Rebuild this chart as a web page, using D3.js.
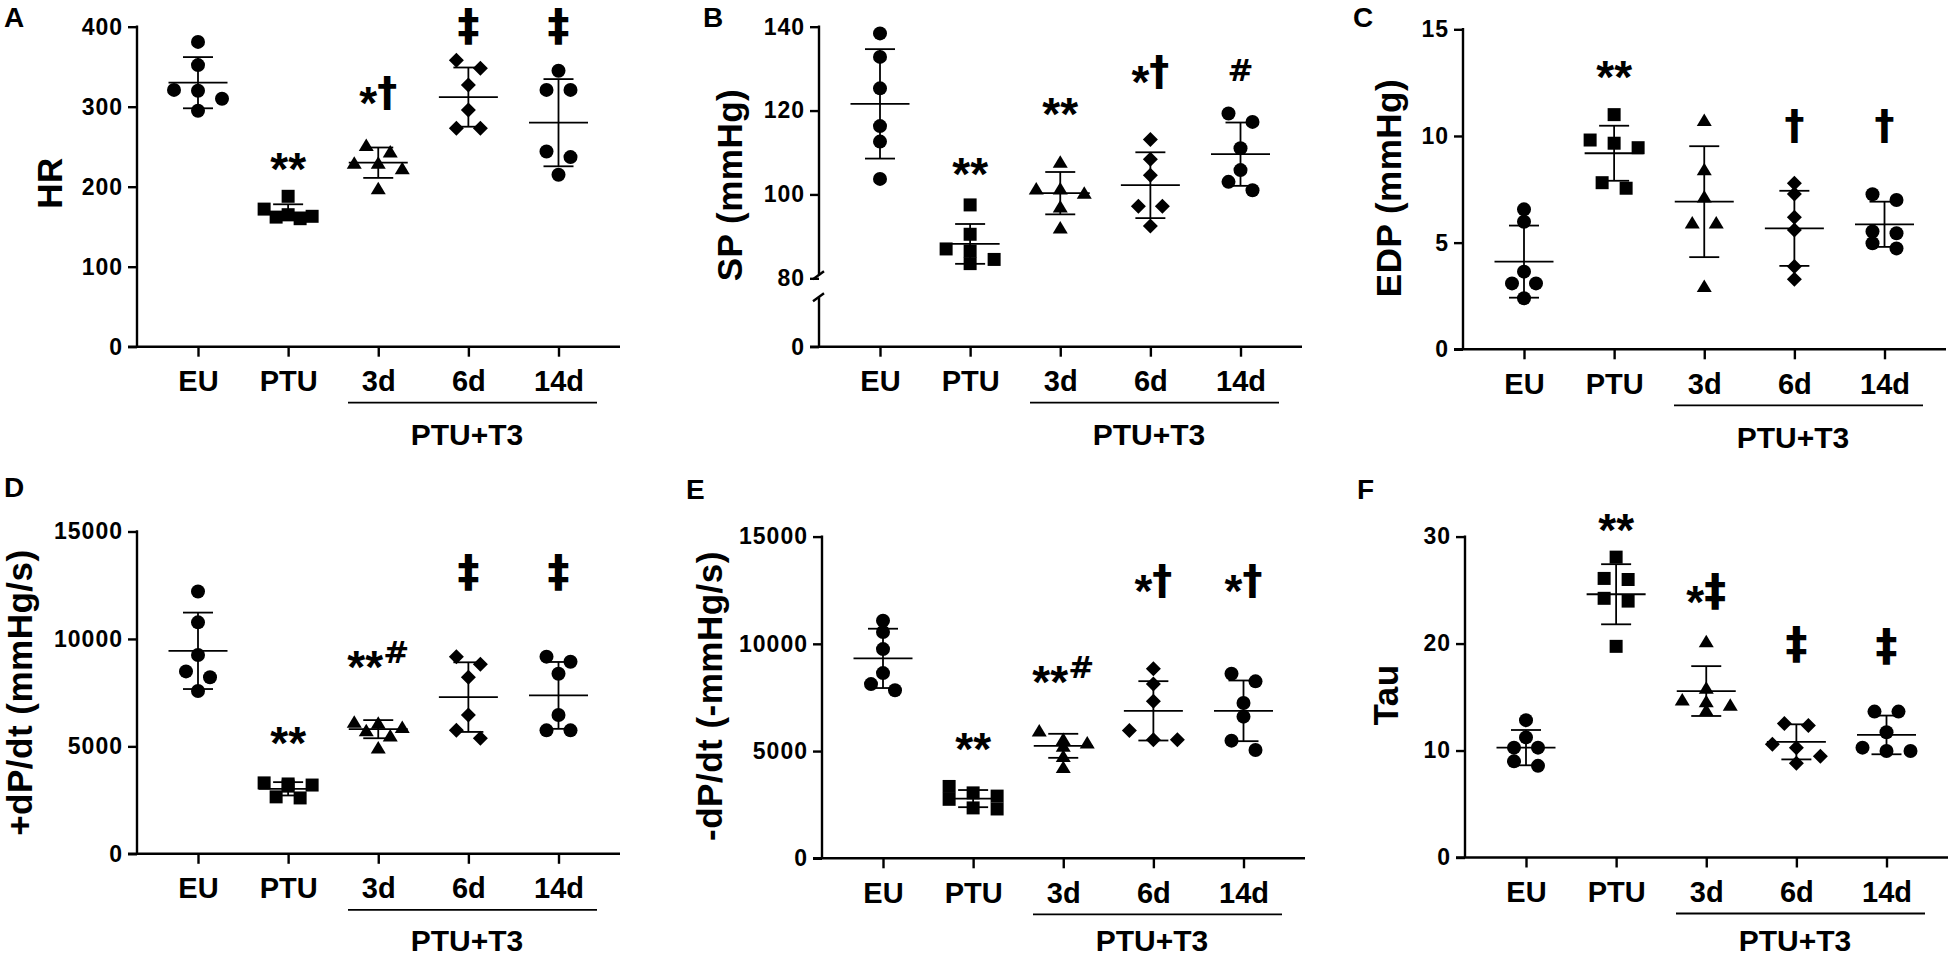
<!DOCTYPE html>
<html><head><meta charset="utf-8">
<script src="https://cdn.jsdelivr.net/npm/d3@7"></script>
<style>
html,body{margin:0;padding:0;background:#fff;}
svg text{font-family:"Liberation Sans",Arial,sans-serif;font-weight:bold;fill:#000;}
</style></head><body>
<svg id="chart" width="1950" height="958"></svg>
<script>
// ---------- DATA ----------
const categories = ["EU", "PTU", "3d", "6d", "14d"];
const groupLabel = "PTU+T3";

const hrValues = [[381,352,321,320,310,295],[188,172,165,163,162,160],[252,244,230,230,223,198],[358,348,327,296,273,273],[345,321,321,244,237,215]];
const hrMeans = [330,168,230,312,280];
const hrSD = [32,10,19,37,54.5];
const hrTicks = [0,100,200,300,400];
const hrMarks = ["","**","*†","‡","‡"];
const hrMarkY = [null,235.5,317.5,412.5,412.5];

const spValues = [[138.4,132.8,125.3,116.3,112.6,103.7],[97.5,90.5,87,86.5,84.5,83.5],[107.8,101.4,101.4,100.4,97.1,92.1],[113.1,108.4,104.6,97.2,97.2,92.5],[119.3,117.3,111,105.8,103,101]];
const spMeans = [121.6,88.2,100.3,102.2,109.6];
const spSD = [13.05,4.75,5.05,7.85,7.55];
const spTicks = [0,80,100,120,140];
const spMarks = ["","**","**","*†","#"];
const spMarkY = [null,107.4,121.7,129.3,129.7];

const edpValues = [[6.56,5.98,3.64,3.09,3.09,2.39],[11.0,9.81,9.66,9.45,7.55,7.81],[10.75,8.44,7.16,5.94,5.94,2.97],[7.78,7.28,6.19,5.59,3.88,3.28],[7.27,7.0,5.52,5.44,4.73,4.97]];
const edpMeans = [4.11,9.19,6.92,5.67,5.86];
const edpSD = [1.69,1.29,2.6,1.76,1.06];
const edpTicks = [0,5,10,15];
const edpMarks = ["","**","","†","†"];
const edpMarkY = [null,13.25,null,10.47,10.5];

const pdpValues = [[12207,10771,9255,8489,8218,7580],[3300,3250,3200,3150,2650,2600],[6150,6100,5900,5750,5500,4950],[9175,8824,8218,6462,5378,5745],[9175,8936,8377,6462,5745,5745]];
const pdpMeans = [9447,3025,5800,7292,7372];
const pdpSD = [1779,310,422,1620,1556];
const pdpTicks = [0,5000,10000,15000];
const pdpMarks = ["","**","**#","‡","‡"];
const pdpMarkY = [null,5633,9175,13085,13085];

const ndpValues = [[11081,10553,9754,8635,8123,7835],[3350,3050,2900,2750,2350,2300],[5964,5405,5565,5245,4765,4253],[8842,8123,7323,5964,5533,5533],[8603,8251,7243,6604,5485,5053]];
const ndpMeans = [9322,2783,5245,6876,6876];
const ndpSD = [1383,400,560,1383,1415];
const ndpTicks = [0,5000,10000,15000];
const ndpMarks = ["","**","**#","*†","*†"];
const ndpMarkY = [null,5565,8683,12920,12920];

const tauValues = [[12.84,11.23,10.27,10.27,8.57,8.99],[28.08,26.09,25.99,24.23,23.97,19.74],[20.22,15.88,14.76,14.6,13.8,14.28],[12.52,12.35,10.27,10.59,8.82,9.47],[13.64,13.64,11.71,9.95,9.95,10.27]];
const tauMeans = [10.27,24.61,15.56,10.81,11.46];
const tauSD = [1.65,2.81,2.33,1.64,1.81];
const tauTicks = [0,10,20,30];
const tauMarks = ["","**","*‡","‡","‡"];
const tauMarkY = [null,31.6,24.87,19.9,19.7];

// ---------- LAYOUT ----------
const panels = [
  {letter:"A", title:"HR", vals:hrValues, means:hrMeans, sds:hrSD, ticks:hrTicks, marks:hrMarks, markY:hrMarkY,
   domain:[0,400], range:[346.7,26.7], ax:137, lx:4, ly:27, tx:49.7, ty:183},
  {letter:"B", title:"SP (mmHg)", vals:spValues, means:spMeans, sds:spSD, ticks:spTicks, marks:spMarks, markY:spMarkY,
   domain:[0,80,140], range:[346.7,278.3,26.7], ax:819, lx:703, ly:27, tx:729, ty:185, brk:true},
  {letter:"C", title:"EDP (mmHg)", vals:edpValues, means:edpMeans, sds:edpSD, ticks:edpTicks, marks:edpMarks, markY:edpMarkY,
   domain:[0,15], range:[349.3,29.3], ax:1463, lx:1353, ly:27, tx:1388, ty:188},
  {letter:"D", title:"+dP/dt (mmHg/s)", vals:pdpValues, means:pdpMeans, sds:pdpSD, ticks:pdpTicks, marks:pdpMarks, markY:pdpMarkY,
   domain:[0,15000], range:[853.8,531.5], ax:137, lx:4, ly:497, tx:19.7, ty:692.6},
  {letter:"E", title:"-dP/dt (-mmHg/s)", vals:ndpValues, means:ndpMeans, sds:ndpSD, ticks:ndpTicks, marks:ndpMarks, markY:ndpMarkY,
   domain:[0,15000], range:[858.3,536.6], ax:822, lx:686, ly:499, tx:709, ty:696},
  {letter:"F", title:"Tau", vals:tauValues, means:tauMeans, sds:tauSD, ticks:tauTicks, marks:tauMarks, markY:tauMarkY,
   domain:[0,30], range:[857.5,536.6], ax:1465, lx:1357, ly:499, tx:1385.7, ty:695}
];

const svg = d3.select("#chart");
const AXW = 2.4, LW = 1.8;

const triType = {draw(ctx){ctx.moveTo(0,-6.5);ctx.lineTo(7.5,6);ctx.lineTo(-7.5,6);ctx.closePath();}};
const diaType = {draw(ctx){ctx.moveTo(0,-7.5);ctx.lineTo(7.5,0);ctx.lineTo(0,7.5);ctx.lineTo(-7.5,0);ctx.closePath();}};
const symbols = [
  d3.symbol().type(d3.symbolCircle).size(Math.PI*49),
  d3.symbol().type(d3.symbolSquare).size(169),
  d3.symbol().type(triType),
  d3.symbol().type(diaType),
  d3.symbol().type(d3.symbolCircle).size(Math.PI*49)
];

function jitter(vals, y, slot, thr){
  const idx = vals.map((v,i)=>i).sort((a,b)=>vals[b]-vals[a]);
  const off = new Array(vals.length).fill(0);
  const groups = []; let cur = [idx[0]];
  for (let k=1;k<idx.length;k++){
    const p = idx[k-1], c = idx[k];
    if (Math.abs(y(vals[p])-y(vals[c])) < thr && cur.length < 3) cur.push(c);
    else { groups.push(cur); cur=[c]; }
  }
  groups.push(cur);
  groups.forEach(gr => gr.forEach((j,k)=>{ off[j] = (k-(gr.length-1)/2)*slot; }));
  return off;
}

const DJ = '"DejaVu Sans",sans-serif';
const glyph = {
  "*":{f:46,c:0.57,ff:null},
  "†":{f:40,c:0.33,ff:DJ},
  "‡":{f:44,c:0.33,ff:DJ},
  "#":{f:31,c:0.36,ff:DJ}
};

panels.forEach(p => {
  const g = svg.append("g");
  const y = d3.scaleLinear().domain(p.domain).range(p.range);
  const x = d3.scalePoint().domain(categories).range([p.ax+61, p.ax+421.5]);
  const y0 = y(0);

  // y axis ticks + labels
  const ya = g.append("g").attr("transform",`translate(${p.ax},0)`)
    .call(d3.axisLeft(y).tickValues(p.ticks).tickSize(9).tickPadding(5).tickFormat(d3.format("d")));
  ya.select(".domain").remove();
  ya.selectAll(".tick line").attr("stroke","#000").attr("stroke-width",AXW);
  ya.selectAll(".tick text").style("font-size","23px").style("letter-spacing","1px");

  // y axis line
  const top = y(p.ticks[p.ticks.length-1]);
  if (p.brk){
    const yb = y(80);
    const up = yb-3, lo = yb+19;
    g.append("line").attr("x1",p.ax).attr("x2",p.ax).attr("y1",top-1.2).attr("y2",up).attr("stroke","#000").attr("stroke-width",AXW);
    g.append("line").attr("x1",p.ax).attr("x2",p.ax).attr("y1",lo).attr("y2",y0).attr("stroke","#000").attr("stroke-width",AXW);
    [up, lo].forEach(yy => g.append("line").attr("x1",p.ax-6).attr("x2",p.ax+5).attr("y1",yy+4).attr("y2",yy-4)
      .attr("stroke","#000").attr("stroke-width",AXW));
  } else {
    g.append("line").attr("x1",p.ax).attr("x2",p.ax).attr("y1",top-1.2).attr("y2",y0).attr("stroke","#000").attr("stroke-width",AXW);
  }

  // x axis
  const xa = g.append("g").attr("transform",`translate(0,${y0})`)
    .call(d3.axisBottom(x).tickSize(10).tickPadding(14));
  xa.select(".domain").remove();
  xa.selectAll(".tick line").attr("stroke","#000").attr("stroke-width",AXW);
  xa.selectAll(".tick text").style("font-size","29px");
  g.append("line").attr("x1",p.ax-9).attr("x2",p.ax+483).attr("y1",y0).attr("y2",y0).attr("stroke","#000").attr("stroke-width",AXW);

  // group underline + label
  g.append("line").attr("x1",p.ax+211).attr("x2",p.ax+460).attr("y1",y0+56).attr("y2",y0+56).attr("stroke","#000").attr("stroke-width",LW);
  g.append("text").attr("x",p.ax+330).attr("y",Math.min(y0+98.5, 950.5)).attr("text-anchor","middle").style("font-size","30px").text(groupLabel);

  // panel letter
  g.append("text").attr("x",p.lx).attr("y",p.ly).style("font-size","28px").text(p.letter);

  // axis title
  g.append("text").attr("transform",`translate(${p.tx},${p.ty}) rotate(-90)`).attr("text-anchor","middle")
    .attr("dominant-baseline","central").style("font-size","35px").style("letter-spacing","0.5px").text(p.title);

  // points
  categories.forEach((cat,i) => {
    const cx = x(cat);
    const vals = p.vals[i];
    const off = jitter(vals, y, 24, 10);
    g.append("g").selectAll("path").data(vals).join("path")
      .attr("d", symbols[i]())
      .attr("transform",(d,k)=>`translate(${cx+off[k]},${y(d)})`)
      .attr("fill","#000");
    // mean & SD
    const m = p.means[i], s = p.sds[i];
    const lg = g.append("g").attr("stroke","#000").attr("stroke-width",LW);
    lg.append("line").attr("x1",cx-29.5).attr("x2",cx+29.5).attr("y1",y(m)).attr("y2",y(m));
    lg.append("line").attr("x1",cx).attr("x2",cx).attr("y1",y(m+s)).attr("y2",y(m-s));
    lg.append("line").attr("x1",cx-15).attr("x2",cx+15).attr("y1",y(m+s)).attr("y2",y(m+s));
    lg.append("line").attr("x1",cx-15).attr("x2",cx+15).attr("y1",y(m-s)).attr("y2",y(m-s));

    // significance marks
    const mk = p.marks[i];
    if (mk){
      const cy = y(p.markY[i]);
      const ag = g.append("g");
      let cursor = 0;
      Array.from(mk).forEach((ch,k) => {
        const gl = glyph[ch];
        const raise = (ch === "#" && k>0) ? 5 : 0;
        let base = cy + gl.c*gl.f - raise;
        base = Math.max(base, 0.93*gl.f);
        const t = ag.append("text").attr("x",cursor).attr("y",base)
          .style("font-size",gl.f+"px").text(ch);
        if (gl.ff) t.style("font-family", gl.ff);
        cursor += t.node().getComputedTextLength();
      });
      ag.attr("transform",`translate(${cx - cursor/2},0)`);
    }
  });
});
</script></body></html>
